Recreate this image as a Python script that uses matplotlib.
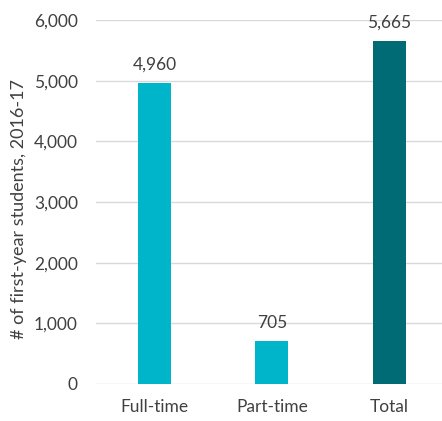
import numpy as np
import matplotlib
matplotlib.use("Agg")
import matplotlib.pyplot as plt

categories = ["Full-time", "Part-time", "Total"]
students = [4960, 705, 5665]
bar_colors = ["#00b5c9", "#00b5c9", "#006b75"]

plt.rcParams['font.family'] = ['Lato', 'DejaVu Sans']
text_color = "#404040"

fig = plt.figure(figsize=(4.42, 4.21), dpi=100)
ax = fig.add_axes([0.217, 0.088, 0.783, 0.864])

x = np.arange(len(categories))
bars = ax.bar(x, students, width=0.28, color=bar_colors, zorder=3)

for xi, v in zip(x, students):
    ax.text(xi, v + 170, f"{v:,}", ha="center", va="bottom",
            fontsize=12.5, color=text_color)

ax.set_ylim(0, 6000)
ax.set_xlim(-0.5, 2.45)
ax.set_yticks(np.arange(0, 6001, 1000))
ax.set_yticklabels([f"{t:,}" for t in range(0, 6001, 1000)])
ax.set_xticks(x)
ax.set_xticklabels(categories)
ax.tick_params(axis="both", length=0, labelsize=12.5, labelcolor=text_color)
ax.tick_params(axis="y", pad=13)
ax.tick_params(axis="x", pad=11)
ax.grid(axis="y", color="#d9d9d9", linewidth=1, zorder=0)
for s in ax.spines.values():
    s.set_visible(False)

ax.set_ylabel("# of first-year students, 2016-17", fontsize=13,
              color=text_color)
ax.yaxis.set_label_coords(-0.2, 0.48)

fig.savefig("out.png", dpi=100)
